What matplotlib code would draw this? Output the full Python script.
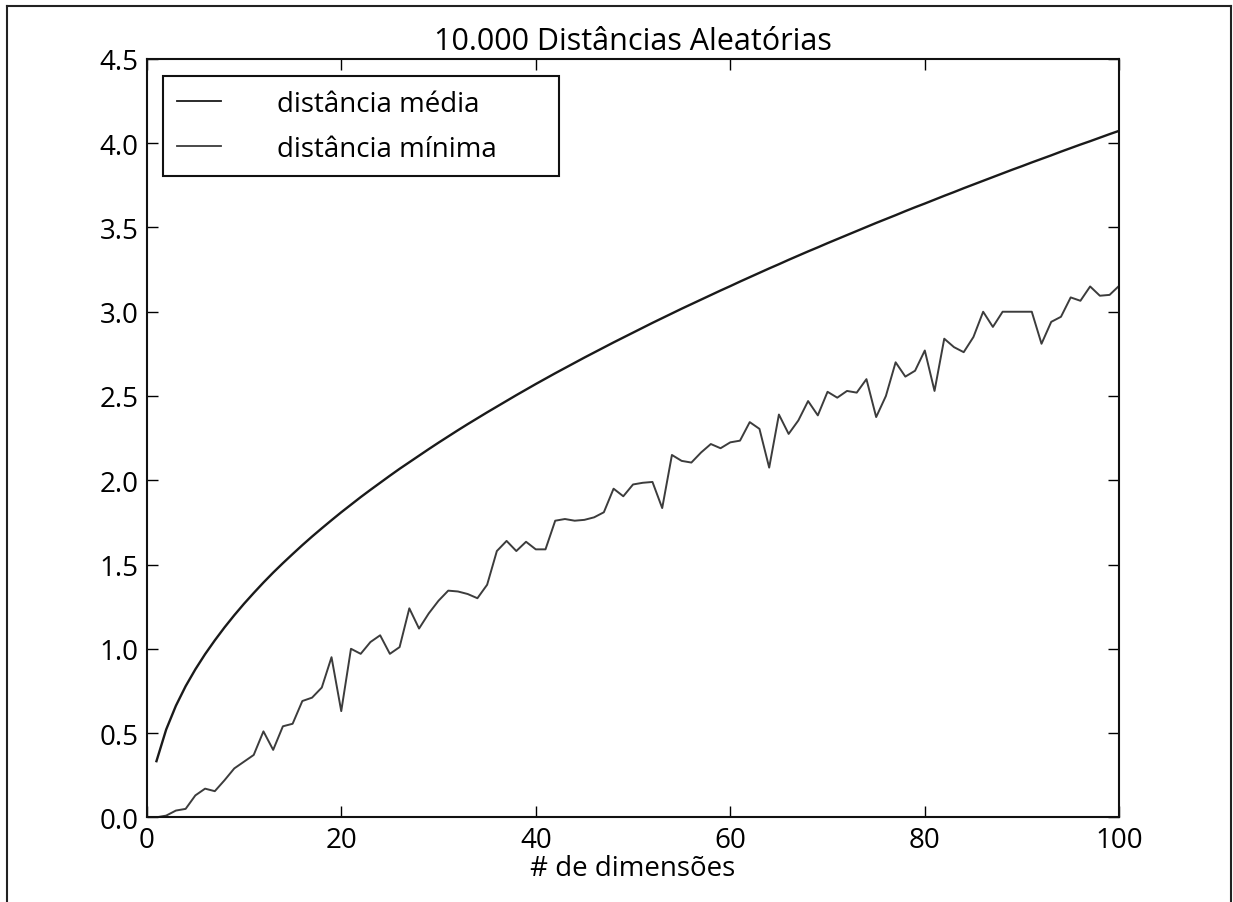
import matplotlib
matplotlib.use("Agg")
import matplotlib.pyplot as plt
from matplotlib.lines import Line2D

dimensions = list(range(1, 101))

avg_distances = [
    0.333, 0.521, 0.662, 0.778, 0.878, 0.968, 1.050, 1.127, 1.199, 1.267,
    1.331, 1.393, 1.452, 1.508, 1.562, 1.615, 1.666, 1.715, 1.763, 1.810,
    1.855, 1.900, 1.943, 1.985, 2.027, 2.068, 2.107, 2.146, 2.185, 2.223,
    2.260, 2.297, 2.333, 2.368, 2.403, 2.437, 2.471, 2.505, 2.538, 2.571,
    2.603, 2.635, 2.666, 2.697, 2.728, 2.758, 2.788, 2.818, 2.847, 2.876,
    2.905, 2.934, 2.962, 2.990, 3.018, 3.045, 3.072, 3.099, 3.126, 3.152,
    3.179, 3.205, 3.231, 3.257, 3.282, 3.308, 3.333, 3.358, 3.382, 3.407,
    3.431, 3.455, 3.479, 3.503, 3.527, 3.550, 3.573, 3.597, 3.620, 3.642,
    3.665, 3.688, 3.710, 3.733, 3.755, 3.777, 3.799, 3.821, 3.843, 3.864,
    3.886, 3.907, 3.928, 3.950, 3.971, 3.992, 4.012, 4.033, 4.054, 4.074,
]

min_distances = [
    0.00, 0.01, 0.04, 0.05, 0.13, 0.17, 0.155, 0.22, 0.29, 0.33,
    0.37, 0.51, 0.40, 0.54, 0.555, 0.69, 0.71, 0.77, 0.95, 0.63,
    1.00, 0.97, 1.04, 1.08, 0.97, 1.01, 1.24, 1.12, 1.21, 1.285,
    1.345, 1.34, 1.325, 1.30, 1.38, 1.58, 1.64, 1.58, 1.635, 1.59,
    1.59, 1.76, 1.77, 1.76, 1.765, 1.78, 1.81, 1.95, 1.905, 1.975,
    1.985, 1.99, 1.835, 2.15, 2.115, 2.105, 2.165, 2.215, 2.19, 2.225,
    2.235, 2.345, 2.305, 2.075, 2.39, 2.275, 2.355, 2.47, 2.385, 2.525,
    2.49, 2.53, 2.52, 2.60, 2.375, 2.50, 2.70, 2.615, 2.65, 2.77,
    2.53, 2.84, 2.79, 2.76, 2.85, 3.00, 2.91, 3.00, 3.00, 3.00,
    3.00, 2.81, 2.94, 2.97, 3.085, 3.065, 3.15, 3.095, 3.10, 3.155,
]

title = "10.000 Distâncias Aleatórias"
xlabel = "# de dimensões"
labels = ["distância média", "distância mínima"]
xticks = [0, 20, 40, 60, 80, 100]
yticks = [0.0, 0.5, 1.0, 1.5, 2.0, 2.5, 3.0, 3.5, 4.0, 4.5]

plt.rcParams['font.family'] = ['Open Sans', 'DejaVu Sans']
FS = 20

fig = plt.figure(figsize=(12.33, 9.03), dpi=100)
ax = fig.add_axes([0.119, 0.0938, 0.7888, 0.8398])

ax.plot(dimensions, avg_distances, color="#1a1a1a", lw=1.7, label=labels[0])
ax.plot(dimensions, min_distances, color="#3c3c3c", lw=1.4, label=labels[1])

ax.set_xlim(0, 100)
ax.set_ylim(0, 4.5)
ax.set_xticks(xticks)
ax.set_yticks(yticks)
ax.set_yticklabels([f"{v:.1f}" for v in yticks])
ax.tick_params(direction='in', length=8, width=1, top=True, right=True,
               labelsize=FS, pad=6)
for s in ax.spines.values():
    s.set_linewidth(1.5)
    s.set_color("#111111")

ax.set_title(title, fontsize=22, pad=7)
ax.set_xlabel(xlabel, fontsize=FS, labelpad=0)

leg = ax.legend(loc='upper left', fontsize=FS, handlelength=1.6,
                handletextpad=2.0, borderpad=0.5, labelspacing=0.6,
                fancybox=False, framealpha=1, borderaxespad=0.0,
                bbox_to_anchor=(0.0168, 0.0, 0.407, 0.9776), mode='expand')
leg.get_frame().set_edgecolor("#111111")
leg.get_frame().set_linewidth(1.5)
for h in leg.get_lines():
    h.set_linewidth(1.3)

# figure border lines (left, top, right)
W, H = 1233, 903
for (x0, y0, x1, y1) in [(7, 0, 7, 896), (7, 896, 1231, 896), (1231, 896, 1231, 0)]:
    fig.add_artist(Line2D([x0 / W, x1 / W], [y0 / H, y1 / H],
                          color="#222222", lw=1.5, transform=fig.transFigure))

fig.savefig("out.png", dpi=100)
